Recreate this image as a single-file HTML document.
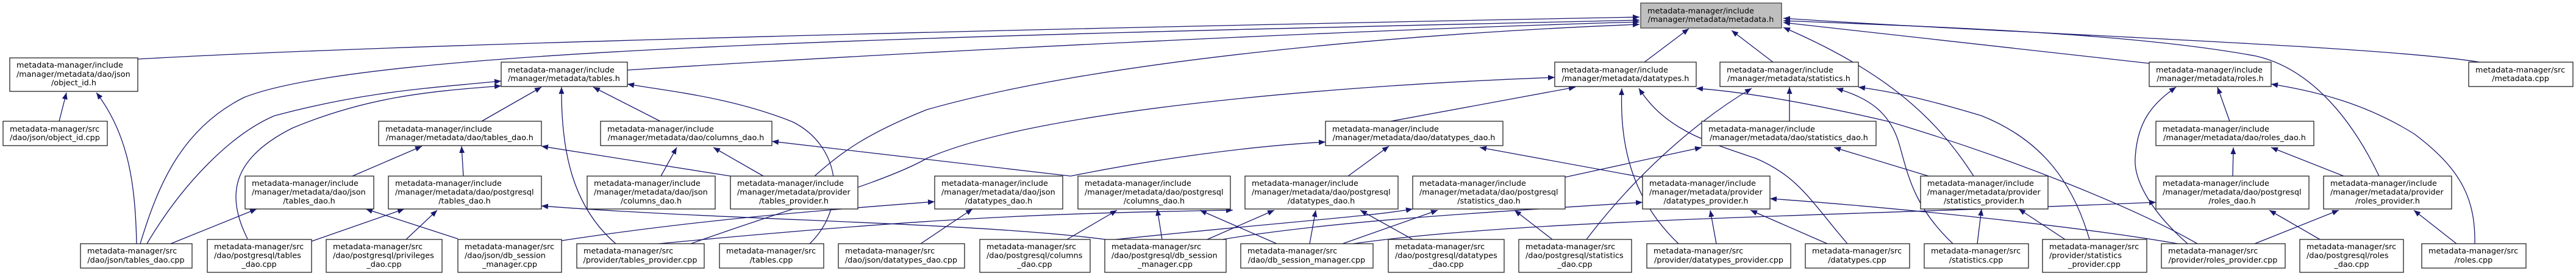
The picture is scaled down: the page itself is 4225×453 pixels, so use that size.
<!DOCTYPE html>
<html><head><meta charset="utf-8"><style>
html,body{margin:0;padding:0;background:#fff;}
svg{display:block;}
.n rect{fill:#fff;stroke:#222;stroke-width:1.3;}
.n text{font-family:"DejaVu Sans","Liberation Sans",sans-serif;font-size:12.8px;fill:#000;}
.e path{fill:none;stroke:#191970;stroke-width:1.3;}
</style></head><body>
<svg width="4225" height="453" viewBox="0 0 4225 453" xmlns="http://www.w3.org/2000/svg">
<defs><marker id="a" markerUnits="userSpaceOnUse" markerWidth="12" markerHeight="9" refX="11" refY="4.5" orient="auto"><path d="M0,0 L11,4.5 L0,9 z" fill="#191970"/></marker></defs>
<g class="e" marker-end="url(#a)">
<path marker-end="url(#a)" d="M226,97 C700,70 1800,45 2689,28"/>
<path marker-end="url(#a)" d="M97,199 L109,152"/>
<path marker-end="url(#a)" d="M224,400 C222,300 210,220 158,152"/>
<path marker-end="url(#a)" d="M230,400 C260,300 300,210 400,160 C600,80 1500,60 2689,33"/>
<path marker-end="url(#a)" d="M241,400 C300,300 380,220 450,190 C600,150 700,145 822,133"/>
<path marker-end="url(#a)" d="M406,392 C370,320 380,260 480,210 C600,160 700,150 822,141"/>
<path marker-end="url(#a)" d="M280,400 L421,343"/>
<path marker-end="url(#a)" d="M511,396 L663,343"/>
<path marker-end="url(#a)" d="M666,393 L717,345"/>
<path marker-end="url(#a)" d="M578,289 L692,240"/>
<path marker-end="url(#a)" d="M751,392 L600,343"/>
<path marker-end="url(#a)" d="M760,289 L757,240"/>
<path marker-end="url(#a)" d="M790,199 L888,143"/>
<path marker-end="url(#a)" d="M1083,199 L973,143"/>
<path marker-end="url(#a)" d="M1010,400 C940,340 920,250 921,143"/>
<path marker-end="url(#a)" d="M1328,400 C1390,340 1380,240 1300,200 C1200,160 1100,150 1029,138"/>
<path marker-end="url(#a)" d="M1029,115 C1500,85 2200,50 2689,36"/>
<path marker-end="url(#a)" d="M1198,289 L888,240"/>
<path marker-end="url(#a)" d="M1084,289 L1110,242"/>
<path marker-end="url(#a)" d="M1252,289 L1170,242"/>
<path marker-end="url(#a)" d="M1336,289 C1380,250 1420,220 1520,180 C1800,100 2300,55 2689,40"/>
<path marker-end="url(#a)" d="M1756,289 L1266,232"/>
<path marker-end="url(#a)" d="M1756,289 C1900,260 2050,240 2174,233"/>
<path marker-end="url(#a)" d="M1133,400 C1300,340 1450,300 1520,260 C1700,180 2200,140 2550,127"/>
<path marker-end="url(#a)" d="M1510,400 L1595,343"/>
<path marker-end="url(#a)" d="M1750,393 L1832,345"/>
<path marker-end="url(#a)" d="M1906,393 L1898,343"/>
<path marker-end="url(#a)" d="M2094,400 L1968,345"/>
<path marker-end="url(#a)" d="M1980,393 L2090,345"/>
<path marker-end="url(#a)" d="M921,395 C1150,360 1350,345 1533,331"/>
<path marker-end="url(#a)" d="M1813,393 C1600,365 1200,362 888,338"/>
<path marker-end="url(#a)" d="M2281,199 L2584,143"/>
<path marker-end="url(#a)" d="M2211,289 L2278,240"/>
<path marker-end="url(#a)" d="M2694,291 L2427,242"/>
<path marker-end="url(#a)" d="M2566,291 L2791,242"/>
<path marker-end="url(#a)" d="M2317,393 L2231,345"/>
<path marker-end="url(#a)" d="M2202,400 L2358,345"/>
<path marker-end="url(#a)" d="M2148,400 L2158,345"/>
<path marker-end="url(#a)" d="M2546,393 L2484,345"/>
<path marker-end="url(#a)" d="M2602,393 C2680,290 2780,200 2873,145"/>
<path marker-end="url(#a)" d="M2753,400 C2690,340 2655,260 2660,145"/>
<path marker-end="url(#a)" d="M2815,400 L2805,345"/>
<path marker-end="url(#a)" d="M3030,400 C2970,330 2950,290 2880,260 C2790,230 2730,210 2688,145"/>
<path marker-end="url(#a)" d="M2997,400 L2871,345"/>
<path marker-end="url(#a)" d="M3604,400 C3500,340 3300,260 3100,200 C2950,165 2850,150 2782,145"/>
<path marker-end="url(#a)" d="M2005,393 C2200,360 2500,345 2694,332"/>
<path marker-end="url(#a)" d="M3572,400 C3400,370 3100,340 2903,326"/>
<path marker-end="url(#a)" d="M2219,400 C2500,360 3000,355 3536,332"/>
<path marker-end="url(#a)" d="M1830,393 C2100,365 2250,355 2317,343"/>
<path marker-end="url(#a)" d="M1080,400 C1500,360 1700,350 2022,345"/>
<path marker-end="url(#a)" d="M2935,199 L2935,143"/>
<path marker-end="url(#a)" d="M3163,289 L3008,242"/>
<path marker-end="url(#a)" d="M3237,289 C3180,200 3100,120 2925,45"/>
<path marker-end="url(#a)" d="M3203,400 C3140,340 3130,290 3116,240 C3100,180 3060,160 3012,145"/>
<path marker-end="url(#a)" d="M3427,393 C3400,300 3350,230 3250,190 C3150,160 3100,150 3048,143"/>
<path marker-end="url(#a)" d="M3243,400 L3250,343"/>
<path marker-end="url(#a)" d="M3387,393 L3311,343"/>
<path marker-end="url(#a)" d="M2697,102 L2770,47"/>
<path marker-end="url(#a)" d="M2908,102 L2840,50"/>
<path marker-end="url(#a)" d="M4067,102 C3900,75 3300,55 2925,30"/>
<path marker-end="url(#a)" d="M3525,104 L2925,37"/>
<path marker-end="url(#a)" d="M3902,289 C3850,180 3780,110 3700,92 C3500,55 3200,45 2925,34"/>
<path marker-end="url(#a)" d="M3588,400 C3520,340 3500,290 3502,260 C3505,200 3530,170 3569,143"/>
<path marker-end="url(#a)" d="M3657,199 L3637,143"/>
<path marker-end="url(#a)" d="M4059,400 C4060,330 4040,280 3960,220 C3880,170 3800,150 3725,138"/>
<path marker-end="url(#a)" d="M3662,289 L3663,242"/>
<path marker-end="url(#a)" d="M3844,289 L3725,242"/>
<path marker-end="url(#a)" d="M3698,400 L3836,345"/>
<path marker-end="url(#a)" d="M3805,393 L3722,345"/>
<path marker-end="url(#a)" d="M4029,400 L3959,345"/>
</g>
<g class="n">
<rect x="2691" y="5" width="231" height="41" style="fill:#bfbfbf;stroke:#404040"/>
<text x="2702" y="22">metadata-manager/include</text><text x="2806" y="36" text-anchor="middle">/manager/metadata/metadata.h</text>

<rect x="16" y="95" width="210" height="55"/>
<text x="27" y="111">metadata-manager/include</text><text x="27" y="126">/manager/metadata/dao/json</text><text x="121" y="140" text-anchor="middle">/object_id.h</text>

<rect x="822" y="102" width="207" height="40"/><text x="833" y="119">metadata-manager/include</text><text x="925" y="133" text-anchor="middle">/manager/metadata/tables.h</text>
<rect x="2550" y="102" width="232" height="40"/><text x="2561" y="119">metadata-manager/include</text><text x="2666" y="133" text-anchor="middle">/manager/metadata/datatypes.h</text>
<rect x="2821" y="102" width="227" height="40"/><text x="2832" y="119">metadata-manager/include</text><text x="2934" y="133" text-anchor="middle">/manager/metadata/statistics.h</text>
<rect x="3525" y="102" width="200" height="40"/><text x="3536" y="119">metadata-manager/include</text><text x="3625" y="133" text-anchor="middle">/manager/metadata/roles.h</text>
<rect x="4049" y="102" width="171" height="40"/><text x="4060" y="119">metadata-manager/src</text><text x="4134" y="133" text-anchor="middle">/metadata.cpp</text>

<rect x="5" y="199" width="171" height="40"/><text x="16" y="216">metadata-manager/src</text><text x="90" y="230" text-anchor="middle">/dao/json/object_id.cpp</text>
<rect x="621" y="199" width="267" height="40"/><text x="632" y="216">metadata-manager/include</text><text x="754" y="230" text-anchor="middle">/manager/metadata/dao/tables_dao.h</text>
<rect x="985" y="199" width="281" height="40"/><text x="996" y="216">metadata-manager/include</text><text x="1125" y="230" text-anchor="middle">/manager/metadata/dao/columns_dao.h</text>
<rect x="2174" y="199" width="291" height="40"/><text x="2185" y="216">metadata-manager/include</text><text x="2319" y="230" text-anchor="middle">/manager/metadata/dao/datatypes_dao.h</text>
<rect x="2791" y="199" width="286" height="40"/><text x="2802" y="216">metadata-manager/include</text><text x="2934" y="230" text-anchor="middle">/manager/metadata/dao/statistics_dao.h</text>
<rect x="3536" y="199" width="259" height="40"/><text x="3547" y="216">metadata-manager/include</text><text x="3665" y="230" text-anchor="middle">/manager/metadata/dao/roles_dao.h</text>

<rect x="402" y="289" width="211" height="54"/><text x="413" y="305">metadata-manager/include</text><text x="413" y="319.5">/manager/metadata/dao/json</text><text x="507" y="334" text-anchor="middle">/tables_dao.h</text>
<rect x="637" y="289" width="251" height="54"/><text x="648" y="305">metadata-manager/include</text><text x="648" y="319.5">/manager/metadata/dao/postgresql</text><text x="762" y="334" text-anchor="middle">/tables_dao.h</text>
<rect x="963" y="289" width="210" height="54"/><text x="974" y="305">metadata-manager/include</text><text x="974" y="319.5">/manager/metadata/dao/json</text><text x="1068" y="334" text-anchor="middle">/columns_dao.h</text>
<rect x="1198" y="289" width="209" height="54"/><text x="1209" y="305">metadata-manager/include</text><text x="1209" y="319.5">/manager/metadata/provider</text><text x="1302" y="334" text-anchor="middle">/tables_provider.h</text>
<rect x="1533" y="289" width="210" height="54"/><text x="1544" y="305">metadata-manager/include</text><text x="1544" y="319.5">/manager/metadata/dao/json</text><text x="1638" y="334" text-anchor="middle">/datatypes_dao.h</text>
<rect x="1768" y="289" width="250" height="54"/><text x="1779" y="305">metadata-manager/include</text><text x="1779" y="319.5">/manager/metadata/dao/postgresql</text><text x="1893" y="334" text-anchor="middle">/columns_dao.h</text>
<rect x="2042" y="289" width="251" height="54"/><text x="2053" y="305">metadata-manager/include</text><text x="2053" y="319.5">/manager/metadata/dao/postgresql</text><text x="2167" y="334" text-anchor="middle">/datatypes_dao.h</text>
<rect x="2317" y="289" width="250" height="54"/><text x="2328" y="305">metadata-manager/include</text><text x="2328" y="319.5">/manager/metadata/dao/postgresql</text><text x="2442" y="334" text-anchor="middle">/statistics_dao.h</text>
<rect x="2694" y="289" width="209" height="54"/><text x="2705" y="305">metadata-manager/include</text><text x="2705" y="319.5">/manager/metadata/provider</text><text x="2798" y="334" text-anchor="middle">/datatypes_provider.h</text>
<rect x="3150" y="289" width="209" height="54"/><text x="3161" y="305">metadata-manager/include</text><text x="3161" y="319.5">/manager/metadata/provider</text><text x="3254" y="334" text-anchor="middle">/statistics_provider.h</text>
<rect x="3536" y="289" width="251" height="54"/><text x="3547" y="305">metadata-manager/include</text><text x="3547" y="319.5">/manager/metadata/dao/postgresql</text><text x="3661" y="334" text-anchor="middle">/roles_dao.h</text>
<rect x="3811" y="289" width="210" height="54"/><text x="3822" y="305">metadata-manager/include</text><text x="3822" y="319.5">/manager/metadata/provider</text><text x="3916" y="334" text-anchor="middle">/roles_provider.h</text>

<rect x="340" y="393" width="171" height="54"/><text x="351" y="409">metadata-manager/src</text><text x="351" y="423.5">/dao/postgresql/tables</text><text x="425" y="438" text-anchor="middle">_dao.cpp</text>
<rect x="535" y="393" width="190" height="54"/><text x="546" y="409">metadata-manager/src</text><text x="546" y="423.5">/dao/postgresql/privileges</text><text x="630" y="438" text-anchor="middle">_dao.cpp</text>
<rect x="751" y="393" width="170" height="54"/><text x="762" y="409">metadata-manager/src</text><text x="762" y="423.5">/dao/json/db_session</text><text x="836" y="438" text-anchor="middle">_manager.cpp</text>
<rect x="1607" y="393" width="181" height="54"/><text x="1618" y="409">metadata-manager/src</text><text x="1618" y="423.5">/dao/postgresql/columns</text><text x="1697" y="438" text-anchor="middle">_dao.cpp</text>
<rect x="1812" y="393" width="199" height="54"/><text x="1823" y="409">metadata-manager/src</text><text x="1823" y="423.5">/dao/postgresql/db_session</text><text x="1911" y="438" text-anchor="middle">_manager.cpp</text>
<rect x="2277" y="393" width="190" height="54"/><text x="2288" y="409">metadata-manager/src</text><text x="2288" y="423.5">/dao/postgresql/datatypes</text><text x="2372" y="438" text-anchor="middle">_dao.cpp</text>
<rect x="2491" y="393" width="185" height="54"/><text x="2502" y="409">metadata-manager/src</text><text x="2502" y="423.5">/dao/postgresql/statistics</text><text x="2583" y="438" text-anchor="middle">_dao.cpp</text>
<rect x="3350" y="393" width="171" height="54"/><text x="3361" y="409">metadata-manager/src</text><text x="3361" y="423.5">/provider/statistics</text><text x="3435" y="438" text-anchor="middle">_provider.cpp</text>
<rect x="3772" y="393" width="170" height="54"/><text x="3783" y="409">metadata-manager/src</text><text x="3783" y="423.5">/dao/postgresql/roles</text><text x="3857" y="438" text-anchor="middle">_dao.cpp</text>

<rect x="132" y="400" width="183" height="40"/><text x="143" y="416">metadata-manager/src</text><text x="223" y="431" text-anchor="middle">/dao/json/tables_dao.cpp</text>
<rect x="946" y="400" width="209" height="40"/><text x="957" y="416">metadata-manager/src</text><text x="1050" y="431" text-anchor="middle">/provider/tables_provider.cpp</text>
<rect x="1180" y="400" width="171" height="40"/><text x="1191" y="416">metadata-manager/src</text><text x="1265" y="431" text-anchor="middle">/tables.cpp</text>
<rect x="1375" y="400" width="207" height="40"/><text x="1386" y="416">metadata-manager/src</text><text x="1478" y="431" text-anchor="middle">/dao/json/datatypes_dao.cpp</text>
<rect x="2035" y="400" width="217" height="40"/><text x="2046" y="416">metadata-manager/src</text><text x="2143" y="431" text-anchor="middle">/dao/db_session_manager.cpp</text>
<rect x="2701" y="400" width="236" height="40"/><text x="2712" y="416">metadata-manager/src</text><text x="2819" y="431" text-anchor="middle">/provider/datatypes_provider.cpp</text>
<rect x="2961" y="400" width="171" height="40"/><text x="2972" y="416">metadata-manager/src</text><text x="3046" y="431" text-anchor="middle">/datatypes.cpp</text>
<rect x="3156" y="400" width="171" height="40"/><text x="3167" y="416">metadata-manager/src</text><text x="3241" y="431" text-anchor="middle">/statistics.cpp</text>
<rect x="3545" y="400" width="203" height="40"/><text x="3556" y="416">metadata-manager/src</text><text x="3646" y="431" text-anchor="middle">/provider/roles_provider.cpp</text>
<rect x="3972" y="400" width="171" height="40"/><text x="3983" y="416">metadata-manager/src</text><text x="4057" y="431" text-anchor="middle">/roles.cpp</text>
</g>
</svg>
</body></html>
